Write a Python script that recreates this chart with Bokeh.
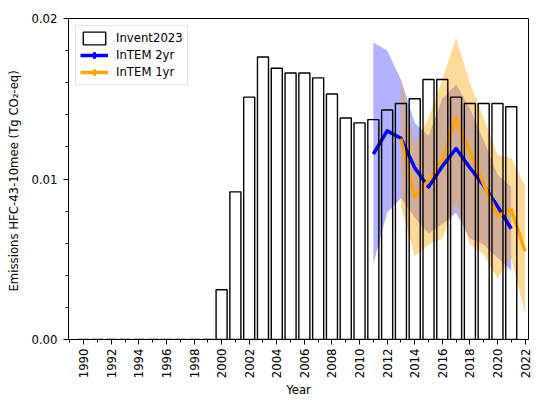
import numpy as np
from bokeh.plotting import figure
from bokeh.models import (ColumnDataSource, FixedTicker, PrintfTickFormatter,
                          Range1d, Legend, LegendItem)
from bokeh.embed import file_html
from bokeh.resources import INLINE

# ---- data ----
inv_years = list(range(1990, 2022))
inv_values = [0, 0, 0, 0, 0, 0, 0, 0, 0, 0,
              0.0031, 0.0092, 0.0151, 0.0176, 0.0169, 0.0166, 0.0166, 0.0163,
              0.0153, 0.0138, 0.0135, 0.0137, 0.0143, 0.0147, 0.0150, 0.0162,
              0.0162, 0.0151, 0.0147, 0.0147, 0.0147, 0.0145]

intem2_years = list(range(2011, 2022))
intem2_mean = [0.01155, 0.0130, 0.01254, 0.0107, 0.0095, 0.0108, 0.0119,
               0.0107, 0.0096, 0.0083, 0.0069]
intem2_upper = [0.0185, 0.0180, 0.0162, 0.0135, 0.0127, 0.0150, 0.0159,
                0.0144, 0.0124, 0.0103, 0.0095]
intem2_lower = [0.0047, 0.0079, 0.0088, 0.0076, 0.0066, 0.0072, 0.0079,
                0.0063, 0.0059, 0.0051, 0.0043]

intem1_years = list(range(2013, 2023))
intem1_mean = [0.0125, 0.0089, 0.0099, 0.0112, 0.0138, 0.0117, 0.0097,
               0.0077, 0.0081, 0.0055]
intem1_upper = [0.0163, 0.0122, 0.0138, 0.0162, 0.0188, 0.0160, 0.0138,
                0.0115, 0.0113, 0.0096]
intem1_lower = [0.0083, 0.0052, 0.0059, 0.0063, 0.0085, 0.0059, 0.0053,
                0.0038, 0.0051, 0.0016]

x_major_ticks = list(range(1990, 2023, 2))
x_minor_ticks = list(range(1989, 2024))
y_major_ticks = [0.0, 0.01, 0.02]
y_minor_ticks = [0.002 * i for i in range(11)]

FONT = "DejaVu Sans"
FS = "11.7px"

p = figure(width=533, height=400, output_backend="svg", toolbar_location=None,
           x_range=Range1d(1988.9, 2022.25), y_range=Range1d(0, 0.02),
           min_border_left=68, min_border_top=18, min_border_right=5)
p.xgrid.visible = False
p.ygrid.visible = False
p.outline_line_color = "black"
p.outline_line_width = 1
p.background_fill_color = "white"
p.border_fill_color = "white"

src2 = ColumnDataSource(dict(x=intem2_years, y=intem2_mean,
                             lo=intem2_lower, hi=intem2_upper))
src1 = ColumnDataSource(dict(x=intem1_years, y=intem1_mean,
                             lo=intem1_lower, hi=intem1_upper))
srcb = ColumnDataSource(dict(x=inv_years, top=inv_values))

p.varea(x="x", y1="lo", y2="hi", source=src2, fill_color="blue", fill_alpha=0.3)
p.varea(x="x", y1="lo", y2="hi", source=src1, fill_color="orange", fill_alpha=0.4)

l2 = p.line(x="x", y="y", source=src2, line_color="blue", line_width=3.5,
            line_join="round")
l1 = p.line(x="x", y="y", source=src1, line_color="orange", line_width=3.5,
            line_join="round")

bars = p.vbar(x="x", top="top", width=0.8, bottom=0, source=srcb,
              fill_alpha=0, line_color="black", line_width=1.4)

# legend-only cross markers (NaN data, never drawn on plot)
nan_src = ColumnDataSource(dict(x=[np.nan], y=[np.nan]))
c2 = p.scatter(x="x", y="y", source=nan_src, marker="cross", size=10,
               line_color="blue", line_width=3)
c1 = p.scatter(x="x", y="y", source=nan_src, marker="cross", size=10,
               line_color="orange", line_width=3)

legend = Legend(items=[
    LegendItem(label="Invent2023", renderers=[bars]),
    LegendItem(label="InTEM 2yr", renderers=[l2, c2]),
    LegendItem(label="InTEM 1yr", renderers=[l1, c1]),
], location="top_left")
legend.margin = 7
legend.padding = 4
legend.spacing = 1
legend.glyph_width = 28
legend.glyph_height = 16
legend.label_height = 16
legend.label_standoff = 8
legend.label_text_font = FONT
legend.label_text_font_size = FS
legend.label_text_color = "black"
legend.border_line_color = "#cccccc"
legend.border_line_width = 1
legend.background_fill_alpha = 0.8
p.add_layout(legend, "center")

# axes
for ax in (p.xaxis[0], p.yaxis[0]):
    ax.axis_line_color = "black"
    ax.major_tick_line_color = "black"
    ax.minor_tick_line_color = "black"
    ax.major_tick_in = 0
    ax.major_tick_out = 5
    ax.minor_tick_in = 0
    ax.minor_tick_out = 3
    ax.major_label_text_font = FONT
    ax.major_label_text_font_size = FS
    ax.major_label_text_color = "black"
    ax.axis_label_text_font = FONT
    ax.axis_label_text_font_size = FS
    ax.axis_label_text_font_style = "normal"
    ax.axis_label_text_color = "black"

p.xaxis[0].ticker = FixedTicker(ticks=x_major_ticks, minor_ticks=x_minor_ticks)
p.xaxis[0].major_label_orientation = np.pi / 2
p.xaxis[0].axis_label = "Year"
p.xaxis[0].major_label_standoff = 4
p.xaxis[0].axis_label_standoff = 2

p.yaxis[0].ticker = FixedTicker(ticks=y_major_ticks, minor_ticks=y_minor_ticks)
p.yaxis[0].formatter = PrintfTickFormatter(format="%.2f")
p.yaxis[0].axis_label = "Emissions HFC-43-10mee  (Tg CO\u2082-eq)"
p.yaxis[0].major_label_standoff = 6
p.yaxis[0].axis_label_standoff = 7

open("out.html", "w").write(file_html(p, INLINE))
